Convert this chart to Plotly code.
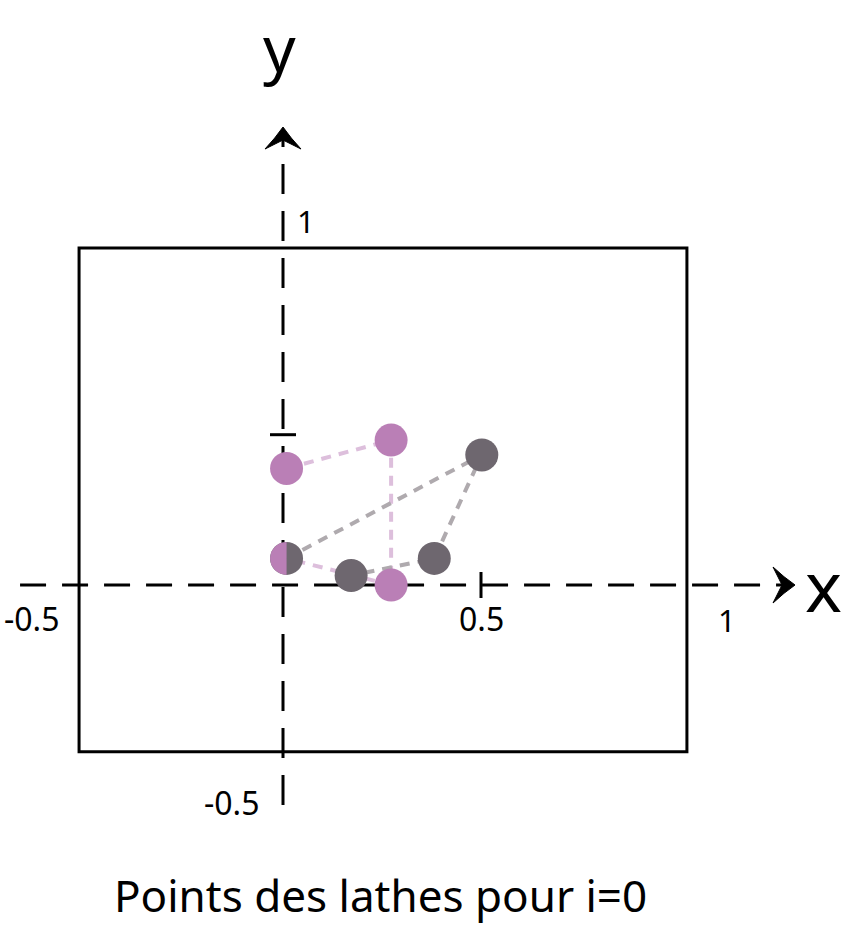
import plotly.graph_objects as go
import numpy as np

# ---- data ----
pink_x = [0.009, 0.273, 0.273, 0.009]
pink_y = [0.346, 0.430, 0.0, 0.079]
gray_x = [0.009, 0.502, 0.382, 0.172]
gray_y = [0.079, 0.386, 0.079, 0.028]
shared_x = 0.009
shared_y = 0.079
box_x = [-0.515, 1.02]
box_y = [-0.495, 1.0]
xaxis_ext = [-0.664, 1.293]
yaxis_ext = [-0.653, 1.359]
x_tick_val = 0.5
y_tick_val = 0.446
title_text = "Points des lathes pour i=0"

PINK = "#BA7FB6"
PINK_L = "#DDBFDC"
GRAY = "#6E676F"
GRAY_L = "#AFAAAE"

W, H = 844, 925
x0px, xscale = 283, 396
y0px, yscale = 585, 337
xr = [-x0px / xscale, (W - x0px) / xscale]
yr = [-(H - y0px) / yscale, y0px / yscale]

fig = go.Figure()

# box
fig.add_shape(type="rect", x0=box_x[0], x1=box_x[1], y0=box_y[0], y1=box_y[1],
              line=dict(color="black", width=3), layer="below")

# dashed axes (stop at the arrowhead base)
AL, AW, AN = 22, 18, 13  # arrowhead length / half width / notch (px)
fig.add_trace(go.Scatter(x=[xaxis_ext[0], xaxis_ext[1] - AN / xscale], y=[0, 0], mode="lines",
                         line=dict(color="black", width=3, dash="26px,16px"),
                         hoverinfo="skip", showlegend=False))
fig.add_trace(go.Scatter(x=[0, 0], y=[yaxis_ext[0], yaxis_ext[1] - AN / yscale], mode="lines",
                         line=dict(color="black", width=3, dash="30px,17px"),
                         hoverinfo="skip", showlegend=False))

# ticks
tx = 13 / yscale
fig.add_trace(go.Scatter(x=[x_tick_val, x_tick_val], y=[-tx, tx], mode="lines",
                         line=dict(color="black", width=3), hoverinfo="skip", showlegend=False))
ty = 13 / xscale
fig.add_trace(go.Scatter(x=[-ty, ty], y=[y_tick_val, y_tick_val], mode="lines",
                         line=dict(color="black", width=3), hoverinfo="skip", showlegend=False))

# concave arrowheads (pixel-shaped outline, along / across)
ah_along = [0, -11, -AL, -AN, -AL, -11, 0]
ah_across = [0, 8.3, AW, 0, -AW, -8.3, 0]
fig.add_trace(go.Scatter(x=[xaxis_ext[1] + a / xscale for a in ah_along],
                         y=[c / yscale for c in ah_across], mode="lines",
                         fill="toself", fillcolor="black", line=dict(color="black", width=1),
                         hoverinfo="skip", showlegend=False))
fig.add_trace(go.Scatter(x=[c / xscale for c in ah_across],
                         y=[yaxis_ext[1] + a / yscale for a in ah_along], mode="lines",
                         fill="toself", fillcolor="black", line=dict(color="black", width=1),
                         hoverinfo="skip", showlegend=False))

# dashed connection lines
fig.add_trace(go.Scatter(x=pink_x, y=pink_y, mode="lines",
                         line=dict(color=PINK_L, width=4, dash="10px,8px"),
                         hoverinfo="skip", showlegend=False))
fig.add_trace(go.Scatter(x=gray_x, y=gray_y, mode="lines",
                         line=dict(color=GRAY_L, width=4, dash="10px,8px"),
                         hoverinfo="skip", showlegend=False))

# markers
MS = 33
fig.add_trace(go.Scatter(x=gray_x, y=gray_y, mode="markers",
                         marker=dict(color=GRAY, size=MS, line=dict(width=0)),
                         showlegend=False))
fig.add_trace(go.Scatter(x=pink_x[:3], y=pink_y[:3], mode="markers",
                         marker=dict(color=PINK, size=MS, line=dict(width=0)),
                         showlegend=False))
# left half of shared point in pink
r_px = MS / 2
t = np.linspace(np.pi / 2, 3 * np.pi / 2, 40)
hx = shared_x + r_px * np.cos(t) / xscale
hy = shared_y + r_px * np.sin(t) / yscale
fig.add_trace(go.Scatter(x=list(hx) + [hx[0]], y=list(hy) + [hy[0]], mode="lines",
                         fill="toself", fillcolor=PINK, line=dict(width=0, color=PINK),
                         hoverinfo="skip", showlegend=False))

FONT = "Noto Sans"
def label(x, y, s, size, xpx=0, ypx=0):
    fig.add_annotation(x=x, y=y, text=s, showarrow=False, xref="x", yref="y",
                       xshift=xpx, yshift=ypx, xanchor="center", yanchor="middle",
                       borderpad=0,
                       font=dict(family=FONT, size=size, color="black"))

label(0, 1.0, "1", 31, xpx=23, ypx=27)
label(0.5, 0, "0.5", 32, ypx=-33)
label(1.0, 0, "1", 31, xpx=48, ypx=-35)
label(-0.5, 0, "-0.5", 32, xpx=-53, ypx=-33)
label(0, -0.5, "-0.5", 32, xpx=-51, ypx=-49)
label(xaxis_ext[1], 0, "x", 70, xpx=28, ypx=0)
label(0, yaxis_ext[1], "y", 64, xpx=-4, ypx=80)

fig.add_annotation(x=0.5, y=0, xref="paper", yref="paper", text=title_text,
                   showarrow=False, yshift=30, xshift=-42, xanchor="center", yanchor="middle",
                   borderpad=0,
                   font=dict(family=FONT, size=44, color="black"))

fig.update_layout(width=W, height=H, margin=dict(l=0, r=0, t=0, b=0),
                  plot_bgcolor="white", paper_bgcolor="white",
                  xaxis=dict(range=xr, visible=False, fixedrange=True),
                  yaxis=dict(range=yr, visible=False, fixedrange=True),
                  showlegend=False)

fig.write_html("out.html")
